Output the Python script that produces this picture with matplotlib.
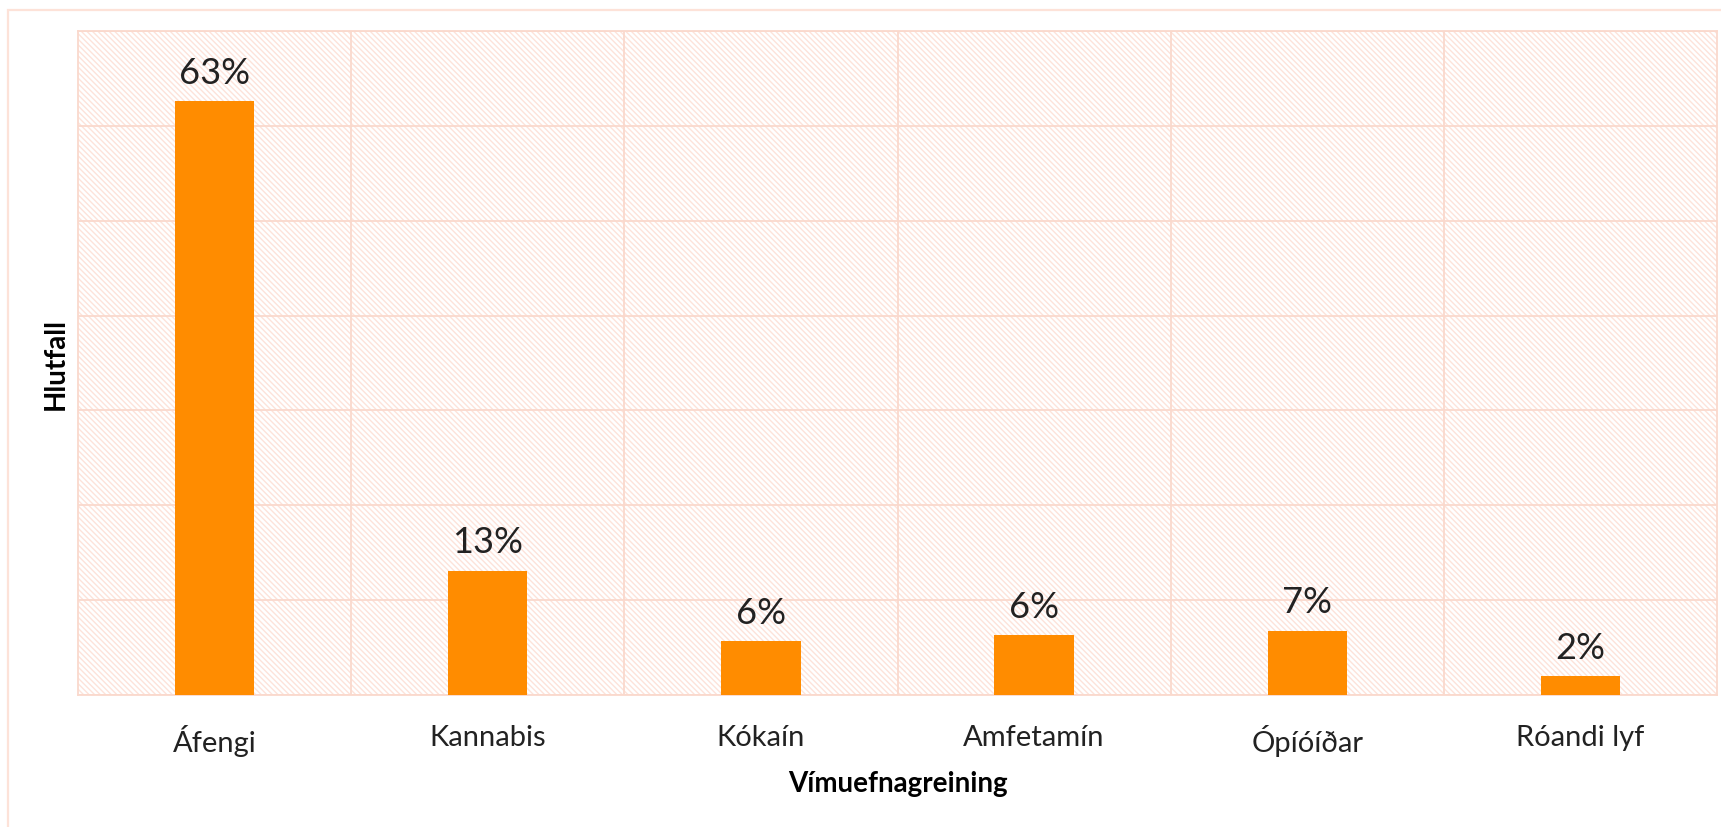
import matplotlib
matplotlib.use("Agg")
import matplotlib.pyplot as plt
from matplotlib.patches import Rectangle

plt.rcParams["font.family"] = ["Lato", "DejaVu Sans"]
plt.rcParams["hatch.linewidth"] = 1.0

categories = ["Áfengi", "Kannabis", "Kókaín", "Amfetamín", "Ópíóíðar", "Róandi lyf"]
shares = [62.6, 13.1, 5.7, 6.3, 6.8, 2.0]

bar_color = "#FF8C00"
pink = "#FAD9CD"

fig = plt.figure(figsize=(17.21, 8.28), dpi=100)
ax = fig.add_axes([0.0453, 0.1594, 0.9524, 0.802])

# outer chart-area border
fig.patches.append(Rectangle((0.0047, -0.2), 1.2, 1.1867, transform=fig.transFigure,
                             facecolor="none", edgecolor="#FDE2D8", lw=1.6, zorder=0))

# hatched plot area
ax.add_patch(Rectangle((0, 0), 1, 1, transform=ax.transAxes, facecolor="white",
                       edgecolor="#FDE3DA", lw=0, hatch="\\" * 6, zorder=0))

x = range(len(categories))
bars = ax.bar(x, shares, width=0.29, color=bar_color, zorder=3)
for b, v in zip(bars, shares):
    ax.text(b.get_x() + b.get_width() / 2, v + 1.3, f"{round(v)}%",
            ha="center", va="bottom", fontsize=26, color="#222222", zorder=4)

ax.set_xlim(-0.5, len(categories) - 0.5)
ax.set_ylim(0, 70)
ax.set_yticks(range(0, 71, 10))
ax.set_yticklabels([])
ax.set_xticks(x)
ax.set_xticklabels(categories, fontsize=21, color="#222222")
ax.set_xticks([i + 0.5 for i in range(len(categories) - 1)], minor=True)
ax.tick_params(axis="both", which="both", length=0)
ax.tick_params(axis="x", pad=21)
ax.grid(axis="y", color=pink, lw=1.3, zorder=1)
ax.grid(axis="x", which="minor", color=pink, lw=1.3, zorder=1)
for s in ax.spines.values():
    s.set_color(pink)
    s.set_linewidth(1.3)

ax.set_xlabel("Vímuefnagreining", fontsize=20, fontweight="bold", labelpad=10)
ax.set_ylabel("Hlutfall", fontsize=20, fontweight="bold", labelpad=3)

fig.savefig("out.png", dpi=100)
